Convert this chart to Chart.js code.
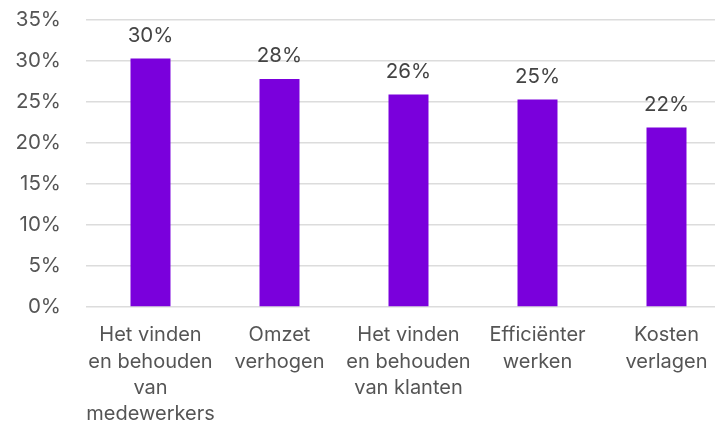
<!DOCTYPE html>
<html>
<head>
<meta charset="utf-8">
<script src="https://cdn.jsdelivr.net/npm/chart.js@4/dist/chart.umd.min.js"></script>
<style>
  html, body { margin: 0; padding: 0; background: #fff; overflow: hidden; }
  #wrap { width: 731px; height: 424px; }
</style>
</head>
<body>
<div id="wrap"><canvas id="myChart"></canvas></div>
<script>
// categories (multi-line, as wrapped in the picture)
var categories = [
  ["Het vinden", "en behouden", "van", "medewerkers"],
  ["Omzet", "verhogen"],
  ["Het vinden", "en behouden", "van klanten"],
  ["Efficiënter", "werken"],
  ["Kosten", "verlagen"]
];
// share of respondents, in percent
var values = [30.3, 27.8, 25.9, 25.3, 21.9];
var valueLabels = ["30%", "28%", "26%", "25%", "22%"];
var yTicks = [0, 5, 10, 15, 20, 25, 30, 35];

var FONT = "Inter, 'Noto Sans', sans-serif";

// draw the value above each bar
var barLabels = {
  id: 'barLabels',
  afterDatasetsDraw: function(chart) {
    var ctx = chart.ctx;
    var meta = chart.getDatasetMeta(0);
    ctx.save();
    ctx.font = "20.5px " + FONT;
    ctx.fillStyle = "#444444";
    ctx.textAlign = "center";
    ctx.textBaseline = "middle";
    meta.data.forEach(function(bar, i) {
      ctx.fillText(valueLabels[i], bar.x, bar.y - 23);
    });
    ctx.restore();
  }
};

var ctx = document.getElementById('myChart');
var myChart = new Chart(ctx, {
  type: 'bar',
  data: {
    labels: categories,
    datasets: [{
      data: values,
      backgroundColor: '#7A00DC',
      barPercentage: 0.62,
      categoryPercentage: 0.5
    }]
  },
  options: {
    responsive: true,
    maintainAspectRatio: false,
    animation: false,
    layout: { padding: { top: 20, right: 0, left: 0, bottom: 0 } },
    plugins: {
      legend: { display: false },
      tooltip: { enabled: false }
    },
    scales: {
      x: {
        grid: { display: false, drawTicks: false },
        border: { display: false },
        ticks: {
          color: '#555555',
          padding: 15,
          maxRotation: 0,
          autoSkip: false,
          font: { family: FONT, size: 20, lineHeight: 1.32 }
        },
        afterFit: function(scale) {
          scale.height = 117;
          scale.paddingLeft = 0;
          scale.paddingRight = 0;
        }
      },
      y: {
        min: 0,
        max: 35,
        afterBuildTicks: function(scale) {
          scale.ticks = yTicks.map(function(v) { return { value: v }; });
        },
        grid: { color: '#DCDCDC', lineWidth: 1.5, drawTicks: false },
        border: { display: false },
        ticks: {
          color: '#555555',
          padding: 25,
          font: { family: FONT, size: 20.5 },
          callback: function(v) { return v + '%'; }
        },
        afterFit: function(scale) {
          scale.width = 86;
          scale.paddingTop = 0;
          scale.paddingBottom = 0;
        }
      }
    }
  },
  plugins: [barLabels]
});
</script>
</body>
</html>
